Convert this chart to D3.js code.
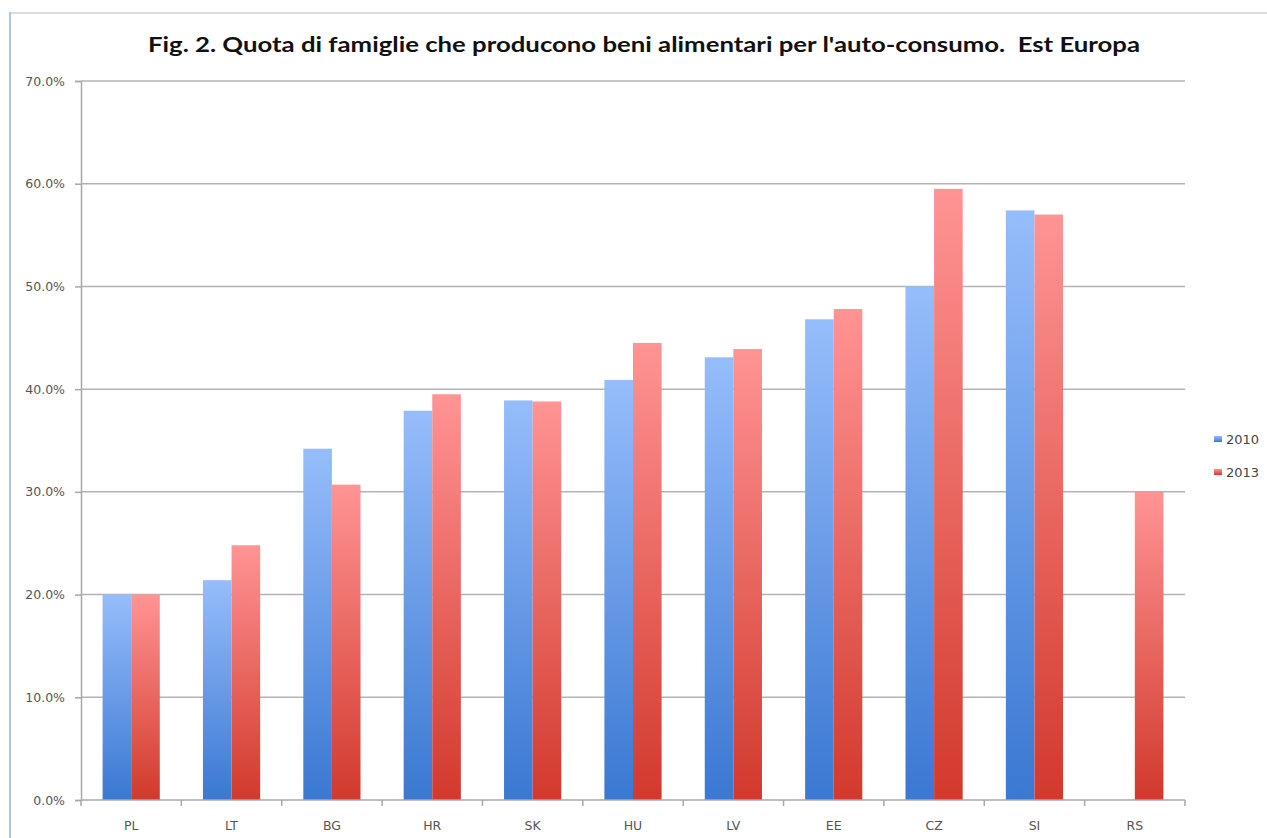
<!DOCTYPE html>
<html><head><meta charset="utf-8">
<script src="https://cdn.jsdelivr.net/npm/d3@7"></script>
<style>body{margin:0;background:#fff;}svg{display:block;}</style>
</head><body>
<svg id="c" width="1267" height="838"></svg>
<script>
const categories = ["PL","LT","BG","HR","SK","HU","LV","EE","CZ","SI","RS"];
const series2010 = [20.0,21.4,34.2,37.9,38.9,40.9,43.1,46.8,50.0,57.4,null];
const series2013 = [20.0,24.8,30.7,39.5,38.8,44.5,43.9,47.8,59.5,57.0,30.0];
const seriesNames = ["2010","2013"];
const yTicks = [0,10,20,30,40,50,60,70];
const titleText = "Fig. 2. Quota di famiglie che producono beni alimentari per l'auto-consumo.  Est Europa";

const svg = d3.select("#c");
const m = {l:81, r:1185, t:81, b:800};
const x = d3.scaleBand().domain(categories).range([m.l, m.r]).paddingInner(0.43).paddingOuter(0.215);
const xs = d3.scaleBand().domain(seriesNames).range([0, x.bandwidth()]);
const y = d3.scaleLinear().domain([0,70]).range([m.b, m.t]);
const tickFont = "'DejaVu Sans', Verdana, sans-serif";

const defs = svg.append("defs");
const grads = [["g2010","#96bdfb","#3a78d2"],["g2013","#ff9494","#d2392c"]];
grads.forEach(([id,top,bot])=>{
  const g = defs.append("linearGradient").attr("id",id).attr("x1",0).attr("y1",0).attr("x2",0).attr("y2",1);
  g.append("stop").attr("offset","0%").attr("stop-color",top);
  g.append("stop").attr("offset","100%").attr("stop-color",bot);
});

// frame
svg.append("line").attr("x1",10).attr("x2",1267).attr("y1",13).attr("y2",13).attr("stroke","#dcdcdc").attr("stroke-width",2);
svg.append("line").attr("x1",10).attr("x2",10).attr("y1",12).attr("y2",838).attr("stroke","#a9c7ee").attr("stroke-width",2);

// title
svg.append("text").attr("x",644).attr("y",52).attr("text-anchor","middle")
  .style("white-space","pre")
  .attr("font-family","Lato, 'Open Sans', sans-serif").attr("font-weight","bold").attr("font-size",21)
  .attr("fill","#111").attr("textLength",992).attr("lengthAdjust","spacingAndGlyphs").text(titleText);

// gridlines
svg.append("g").selectAll("line").data(yTicks.filter(d=>d>0)).join("line")
  .attr("x1",m.l).attr("x2",m.r).attr("y1",d=>y(d)).attr("y2",d=>y(d))
  .attr("stroke","#b3b3b3").attr("stroke-width",1.5);

// bars
const data = [series2010, series2013];
data.forEach((vals,si)=>{
  svg.append("g").selectAll("rect").data(categories.map((c,i)=>({c,v:vals[i]})).filter(d=>d.v!=null)).join("rect")
    .attr("x",d=>x(d.c)+xs(seriesNames[si]))
    .attr("width",xs.bandwidth())
    .attr("y",d=>y(d.v)).attr("height",d=>y(0)-y(d.v))
    .attr("fill",`url(#g${seriesNames[si]})`);
});

// y axis
const yAxis = d3.axisLeft(y).tickValues(yTicks).tickSize(6).tickPadding(10).tickFormat(d=>d3.format(".1f")(d)+"%");
const ya = svg.append("g").attr("transform",`translate(${m.l},0)`).call(yAxis);
ya.selectAll("path,line").attr("stroke","#a8a8a8").attr("stroke-width",1.5);
ya.selectAll("text").attr("font-family",tickFont).attr("font-size",12.5).attr("fill","#555");

// x axis
const xa = svg.append("g").attr("transform",`translate(0,${m.b})`);
xa.append("line").attr("x1",m.l).attr("x2",m.r).attr("stroke","#a8a8a8").attr("stroke-width",1.5);
const step = x.step();
xa.selectAll("line.t").data(d3.range(categories.length+1)).join("line").attr("class","t")
  .attr("x1",i=>m.l+i*step).attr("x2",i=>m.l+i*step).attr("y1",0).attr("y2",6)
  .attr("stroke","#a8a8a8").attr("stroke-width",1.5);
xa.selectAll("text").data(categories).join("text")
  .attr("x",d=>x(d)+x.bandwidth()/2).attr("y",30).attr("text-anchor","middle")
  .attr("font-family",tickFont).attr("font-size",12.5).attr("fill","#555").text(d=>d);

// legend
const lg = svg.append("g");
seriesNames.forEach((n,i)=>{
  const yy = 439 + i*33;
  lg.append("rect").attr("x",1214).attr("y",yy-3).attr("width",8).attr("height",6).attr("fill",`url(#g${n})`);
  lg.append("text").attr("x",1226).attr("y",yy+5).attr("font-family",tickFont)
    .attr("font-size",13).attr("fill","#444").text(n);
});
</script>
</body></html>
